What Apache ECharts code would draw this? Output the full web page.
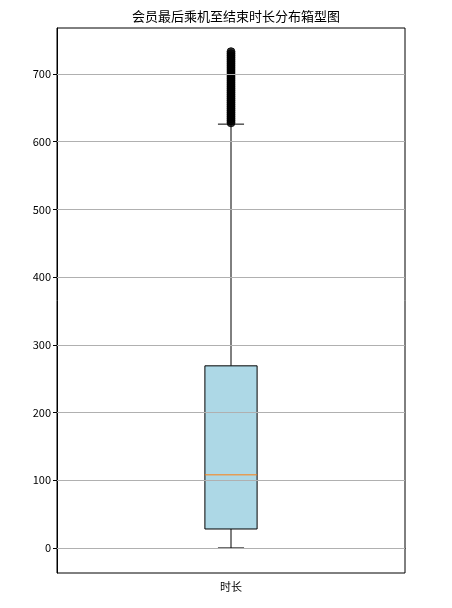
<!DOCTYPE html>
<html>
<head>
<meta charset="utf-8">
<script src="https://cdn.jsdelivr.net/npm/echarts@6/dist/echarts.min.js"></script>
<style>html,body{margin:0;padding:0;background:#fff;}#c{width:452px;height:608px;}</style>
</head>
<body>
<div id="c"></div>
<script>
const titleText = '会员最后乘机至结束时长分布箱型图';
const categories = ['时长'];
// [min(whisker low), Q1, median, Q3, max(whisker high)]
const boxStats = [[0, 28, 108, 269, 626]];
const outliers = [628, 631, 634, 637, 640, 643, 646, 649, 652, 655, 658, 661, 664, 667, 670, 673, 676, 679, 682, 685, 688, 691, 694, 697, 700, 703, 706, 709, 712, 715, 718, 721, 724, 727, 730, 733];
const yTicks = [0, 100, 200, 300, 400, 500, 600, 700];

const chart = echarts.init(document.getElementById('c'));
const font = '"Noto Sans CJK SC", "DejaVu Sans", sans-serif';

chart.setOption({
  animation: false,
  backgroundColor: '#fff',
  textStyle: { fontFamily: font },
  title: {
    text: titleText, left: 231, top: 5, textAlign: 'center',
    textStyle: { fontSize: 13, fontWeight: 'normal', color: '#000', fontFamily: font }
  },
  grid: { left: 57, right: 47, top: 28, bottom: 35, show: true, borderColor: '#000', borderWidth: 1, backgroundColor: 'transparent' },
  xAxis: {
    type: 'category', data: categories, boundaryGap: true,
    axisLine: { lineStyle: { color: '#000' } },
    axisTick: { alignWithLabel: true, length: 4, lineStyle: { color: '#000' } },
    axisLabel: { color: '#000', fontSize: 11, margin: 8, fontFamily: font },
    splitLine: { show: false }
  },
  yAxis: {
    type: 'value', min: -37, max: 768,
    axisLine: { show: true, lineStyle: { color: '#000' } },
    axisTick: { show: true, length: 4, lineStyle: { color: '#000' }, customValues: yTicks },
    axisLabel: { color: '#000', fontSize: 11, margin: 6, fontFamily: font, customValues: yTicks },
    splitLine: { show: false }
  },
  series: [
    {
      type: 'line', data: [], silent: true,
      markLine: {
        silent: true, symbol: 'none', label: { show: false },
        lineStyle: { color: '#b0b0b0', width: 1, type: 'solid' },
        data: yTicks.map(v => ({ yAxis: v }))
      }
    },
    {
      type: 'custom',
      data: boxStats.map((s, i) => [i].concat(s)),
      encode: { x: 0, y: [1, 2, 3, 4, 5] },
      z: 3,
      renderItem: function (params, api) {
        const x = api.value(0);
        const band = api.size([1, 0])[0];
        const bw = band * 0.15;
        const cw = bw * 0.5;
        const pMin = api.coord([x, api.value(1)]);
        const pQ1 = api.coord([x, api.value(2)]);
        const pMed = api.coord([x, api.value(3)]);
        const pQ3 = api.coord([x, api.value(4)]);
        const pMax = api.coord([x, api.value(5)]);
        const cx = pMin[0];
        const line = { stroke: '#000', lineWidth: 1 };
        return {
          type: 'group',
          children: [
            { type: 'line', shape: { x1: cx, y1: pQ1[1], x2: cx, y2: pMin[1] }, style: line },
            { type: 'line', shape: { x1: cx, y1: pQ3[1], x2: cx, y2: pMax[1] }, style: line },
            { type: 'line', shape: { x1: cx - cw / 2, y1: pMin[1], x2: cx + cw / 2, y2: pMin[1] }, style: line },
            { type: 'line', shape: { x1: cx - cw / 2, y1: pMax[1], x2: cx + cw / 2, y2: pMax[1] }, style: line },
            { type: 'rect', shape: { x: cx - bw / 2, y: pQ3[1], width: bw, height: pQ1[1] - pQ3[1] }, style: { fill: '#add8e6', stroke: '#000', lineWidth: 1 } },
            { type: 'line', shape: { x1: cx - bw / 2, y1: pMed[1], x2: cx + bw / 2, y2: pMed[1] }, style: { stroke: '#ff7f0e', lineWidth: 1 } }
          ]
        };
      }
    },
    {
      type: 'scatter', z: 4,
      data: outliers.map(v => [0, v]),
      symbol: 'circle', symbolSize: 8,
      itemStyle: { color: '#000', borderColor: '#000', borderWidth: 1 }
    }
  ]
});
</script>
</body>
</html>
